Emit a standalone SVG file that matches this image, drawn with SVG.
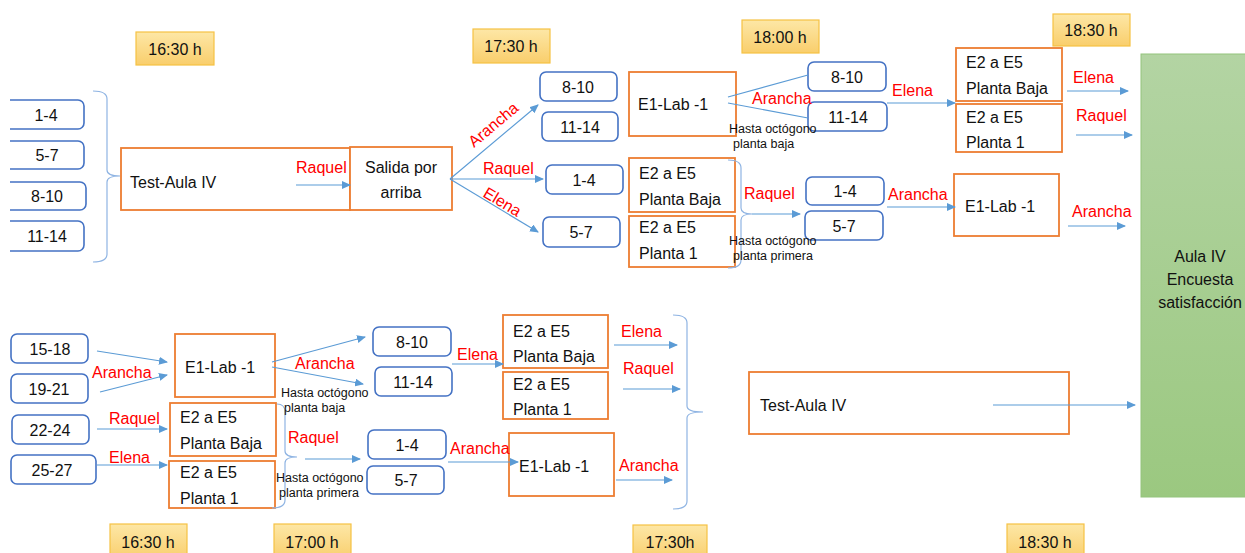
<svg xmlns="http://www.w3.org/2000/svg" width="1245" height="553" viewBox="0 0 1245 553">
<defs>
<linearGradient id="yel" x1="0" y1="0" x2="0" y2="1"><stop offset="0" stop-color="#fde7a6"/><stop offset="1" stop-color="#f9ce6c"/></linearGradient>
<linearGradient id="grn" x1="0" y1="0" x2="0" y2="1"><stop offset="0" stop-color="#b3d4a3"/><stop offset="1" stop-color="#9bc880"/></linearGradient>
<marker id="ah" markerWidth="9" markerHeight="8" refX="8" refY="4" orient="auto" markerUnits="userSpaceOnUse"><path d="M0,0 L9,4 L0,8 Z" fill="#5b9bd5"/></marker>
<style>
text{font-family:"Liberation Sans",Arial,sans-serif;font-size:16px;fill:#111}
.t{fill:url(#yel);stroke:#f6c244;stroke-width:1.2}
.o{fill:#fff;stroke:#ed7d31;stroke-width:1.8}
.b{fill:#fff;stroke:#4472c4;stroke-width:1.6}
.r{fill:#ff0000}
.s{font-size:12.5px}
.m{text-anchor:middle}
.c{fill:none;stroke:#5b9bd5;stroke-width:1.2}
.a{marker-end:url(#ah)}
.br{fill:none;stroke:#8fb4e3;stroke-width:1.2}
</style>
</defs>
<rect width="1245" height="553" fill="#fff"/>

<g id="times">
<g id="t1"><rect class="t" x="136" y="32" width="78" height="33"/><text class="m" x="175" y="55">16:30 h</text></g>
<g id="t2"><rect class="t" x="473" y="29" width="77" height="34"/><text class="m" x="511" y="52">17:30 h</text></g>
<g id="t3"><rect class="t" x="742" y="20" width="77" height="33"/><text class="m" x="780" y="43">18:00 h</text></g>
<g id="t4"><rect class="t" x="1053" y="14" width="77" height="32"/><text class="m" x="1091" y="36">18:30 h</text></g>
<g id="t5"><rect class="t" x="110" y="524" width="77" height="36"/><text class="m" x="148" y="548">16:30 h</text></g>
<g id="t6"><rect class="t" x="274" y="524" width="77" height="36"/><text class="m" x="312" y="548">17:00 h</text></g>
<g id="t7"><rect class="t" x="633" y="525" width="74" height="36"/><text class="m" x="670" y="548">17:30h</text></g>
<g id="t8"><rect class="t" x="1007" y="524" width="77" height="36"/><text class="m" x="1045" y="548">18:30 h</text></g>
</g>

<g id="n-1-4a"><path class="b" d="M10,100 H78 a6,6 0 0 1 6,6 V123 a6,6 0 0 1 -6,6 H10"/><text class="m" x="46" y="121">1-4</text></g>
<g id="n-5-7a"><path class="b" d="M10,141 H78 a6,6 0 0 1 6,6 V163 a6,6 0 0 1 -6,6 H10"/><text class="m" x="47" y="161">5-7</text></g>
<g id="n-8-10a"><path class="b" d="M10,182 H80 a6,6 0 0 1 6,6 V204 a6,6 0 0 1 -6,6 H10"/><text class="m" x="47" y="202">8-10</text></g>
<g id="n-11-14a"><path class="b" d="M10,221 H78 a6,6 0 0 1 6,6 V245 a6,6 0 0 1 -6,6 H10"/><text class="m" x="47" y="242">11-14</text></g>

<g id="n-test1"><rect class="o" x="121" y="148" width="229" height="62"/><text x="130" y="188">Test-Aula IV</text></g>
<g id="n-salida"><rect class="o" x="350" y="147" width="102" height="63" stroke-width="2.5"/><text class="m" x="401" y="173">Salida por</text><text class="m" x="401" y="198">arriba</text></g>

<g id="n-8-10b"><rect class="b" x="540" y="72" width="77" height="29" rx="6"/><text class="m" x="578" y="93">8-10</text></g>
<g id="n-11-14b"><rect class="b" x="542" y="112" width="76" height="29" rx="6"/><text class="m" x="580" y="133">11-14</text></g>
<g id="n-1-4b"><rect class="b" x="546" y="165" width="77" height="29" rx="6"/><text class="m" x="584" y="186">1-4</text></g>
<g id="n-5-7b"><rect class="b" x="543" y="217" width="77" height="30" rx="6"/><text class="m" x="581" y="238">5-7</text></g>

<g id="n-e1a"><rect class="o" x="629" y="72" width="107" height="64"/><text x="638" y="110">E1-Lab -1</text></g>
<g id="n-e2pba"><rect class="o" x="629" y="158" width="106" height="54"/><text x="639" y="179">E2 a E5</text><text x="639" y="205">Planta Baja</text></g>
<g id="n-e2p1a"><rect class="o" x="629" y="216" width="106" height="51"/><text x="639" y="233">E2 a E5</text><text x="639" y="259">Planta 1</text></g>

<g id="n-8-10c"><rect class="b" x="808" y="62" width="78" height="29" rx="6"/><text class="m" x="847" y="83">8-10</text></g>
<g id="n-11-14c"><rect class="b" x="808" y="102" width="79" height="29" rx="6"/><text class="m" x="848" y="123">11-14</text></g>
<g id="n-1-4c"><rect class="b" x="806" y="177" width="78" height="28" rx="6"/><text class="m" x="845" y="197">1-4</text></g>
<g id="n-5-7c"><rect class="b" x="805" y="211" width="78" height="29" rx="6"/><text class="m" x="844" y="232">5-7</text></g>

<g id="n-e2pbb"><rect class="o" x="956" y="48" width="106" height="53"/><text x="966" y="68">E2 a E5</text><text x="966" y="94">Planta Baja</text></g>
<g id="n-e2p1b"><rect class="o" x="956" y="104" width="106" height="48"/><text x="966" y="123">E2 a E5</text><text x="966" y="148">Planta 1</text></g>
<g id="n-e1b"><rect class="o" x="954" y="174" width="105" height="62"/><text x="965" y="212">E1-Lab -1</text></g>

<g id="n-aula"><rect x="1141" y="54" width="110" height="443" fill="url(#grn)" stroke="#93c47d" stroke-width="1"/><text class="m" x="1200" y="262" font-size="16.5">Aula IV</text><text class="m" x="1200" y="285" font-size="16.5">Encuesta</text><text class="m" x="1200" y="308" font-size="16.5">satisfacción</text></g>

<g id="n-15-18"><rect class="b" x="11" y="334" width="77" height="29" rx="6"/><text class="m" x="50" y="355">15-18</text></g>
<g id="n-19-21"><rect class="b" x="11" y="374" width="77" height="29" rx="6"/><text class="m" x="49" y="395">19-21</text></g>
<g id="n-22-24"><rect class="b" x="12" y="415" width="77" height="29" rx="6"/><text class="m" x="50" y="436">22-24</text></g>
<g id="n-25-27"><rect class="b" x="11" y="455" width="85" height="29" rx="6"/><text class="m" x="52" y="476">25-27</text></g>

<g id="n-e1c"><rect class="o" x="175" y="334" width="100" height="63"/><text x="185" y="373">E1-Lab -1</text></g>
<g id="n-e2pbc"><rect class="o" x="170" y="403" width="106" height="53"/><text x="180" y="423">E2 a E5</text><text x="180" y="449">Planta Baja</text></g>
<g id="n-e2p1c"><rect class="o" x="169" y="461" width="106" height="47"/><text x="180" y="478">E2 a E5</text><text x="180" y="504">Planta 1</text></g>

<g id="n-8-10d"><rect class="b" x="373" y="327" width="78" height="29" rx="6"/><text class="m" x="412" y="348">8-10</text></g>
<g id="n-11-14d"><rect class="b" x="375" y="367" width="77" height="29" rx="6"/><text class="m" x="413" y="388">11-14</text></g>
<g id="n-1-4d"><rect class="b" x="368" y="430" width="78" height="29" rx="6"/><text class="m" x="407" y="451">1-4</text></g>
<g id="n-5-7d"><rect class="b" x="367" y="466" width="77" height="28" rx="6"/><text class="m" x="406" y="486">5-7</text></g>

<g id="n-e2pbd"><rect class="o" x="503" y="315" width="105" height="53"/><text x="513" y="337">E2 a E5</text><text x="513" y="362">Planta Baja</text></g>
<g id="n-e2p1d"><rect class="o" x="503" y="372" width="105" height="47"/><text x="513" y="390">E2 a E5</text><text x="513" y="415">Planta 1</text></g>
<g id="n-e1d"><rect class="o" x="509" y="433" width="105" height="63"/><text x="519" y="472">E1-Lab -1</text></g>

<g id="n-test2"><rect class="o" x="749" y="372" width="320" height="62"/><text x="760" y="411">Test-Aula IV</text></g>

<g id="connectors">
<path class="br" d="M93,91 Q107,91 107,99 V170 Q107,176 120,176 Q107,176 107,182 V254 Q107,262 93,262"/>
<path class="br" d="M728,160 Q741,160 741,168 V208 Q741,214 752,214 Q741,214 741,220 V260 Q741,268 728,268"/>
<path class="br" d="M277,404 Q285,404 285,412 V451 Q285,457 297,457 Q285,457 285,463 V500 Q285,508 272,508"/>
<path class="br" d="M673,315 Q687,315 687,323 V406 Q687,412 703,412 Q687,412 687,418 V501 Q687,509 673,509"/>
<path class="c a" d="M296,185 H350"/>
<path class="c a" d="M450,179 L538,105"/>
<path class="c a" d="M450,179 L543,179"/>
<path class="c a" d="M450,179 L538,232"/>
<path class="c" d="M728,97 L808,75"/>
<path class="c" d="M728,103 L808,118"/>
<path class="c a" d="M887,103 H955"/>
<path class="c a" d="M752,214 H800"/>
<path class="c a" d="M887,207 H955"/>
<path class="c a" d="M1067,91 H1128"/>
<path class="c a" d="M1076,135 H1132"/>
<path class="c a" d="M1068,226 H1125"/>
<path class="c a" d="M97,351 L167,362"/>
<path class="c a" d="M100,392 L167,375"/>
<path class="c a" d="M97,429 H167"/>
<path class="c a" d="M97,465 H167"/>
<path class="c a" d="M272,362 L365,337"/>
<path class="c a" d="M272,367 L363,384"/>
<path class="c a" d="M305,459 H360"/>
<path class="c a" d="M452,364 H503"/>
<path class="c a" d="M448,462 H518"/>
<path class="c a" d="M614,345 H677"/>
<path class="c a" d="M623,389 H680"/>
<path class="c a" d="M616,480 H672"/>
<path class="c a" d="M993,405 H1135"/>
</g>

<g id="labels">
<text class="r" x="296" y="173">Raquel</text>
<text class="r" transform="translate(474,148) rotate(-40)">Arancha</text>
<text class="r" x="483" y="174">Raquel</text>
<text class="r" transform="translate(482,196) rotate(31)">Elena</text>
<text class="r" x="752" y="104">Arancha</text>
<text class="s" x="729" y="133">Hasta octógono</text>
<text class="s" x="733" y="148">planta baja</text>
<text class="r" x="892" y="96">Elena</text>
<text class="r" x="744" y="199">Raquel</text>
<text class="s" x="729" y="245">Hasta octógono</text>
<text class="s" x="733" y="260">planta primera</text>
<text class="r" x="888" y="200">Arancha</text>
<text class="r" x="1073" y="83">Elena</text>
<text class="r" x="1076" y="121">Raquel</text>
<text class="r" x="1072" y="217">Arancha</text>
<text class="r" x="92" y="378">Arancha</text>
<text class="r" x="109" y="424">Raquel</text>
<text class="r" x="109" y="463">Elena</text>
<text class="r" x="295" y="369">Arancha</text>
<text class="s" x="281" y="397">Hasta octógono</text>
<text class="s" x="284" y="412">planta baja</text>
<text class="r" x="288" y="443">Raquel</text>
<text class="s" x="276" y="482">Hasta octógono</text>
<text class="s" x="279" y="497">planta primera</text>
<text class="r" x="457" y="360">Elena</text>
<text class="r" x="450" y="454">Arancha</text>
<text class="r" x="621" y="337">Elena</text>
<text class="r" x="623" y="374">Raquel</text>
<text class="r" x="619" y="471">Arancha</text>
</g>
</svg>
